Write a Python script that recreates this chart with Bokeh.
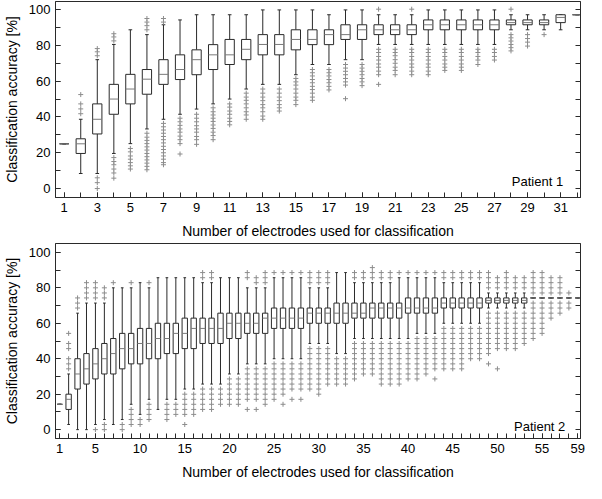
import numpy as np
from bokeh.plotting import figure
from bokeh.models import FixedTicker, LinearAxis, Label, Range1d
from bokeh.layouts import column
from bokeh.embed import file_html
from bokeh.resources import INLINE

FONT = "Liberation Sans"

# ---------------- Patient 1 ----------------
p1_n = list(range(1, 33))
p1_xticks = [1, 3, 5, 7, 9, 11, 13, 15, 17, 19, 21, 23, 25, 27, 29, 31]
p1_lo = [25, 8.4, 8.4, 19.6, 25.1, 33.3, 38.7, 41.5, 44.4, 47.3, 50, 55.6, 58.2, 58.2, 63.6, 69.3,
         69.3, 72, 72, 80.5, 80.5, 80.5, 80.5, 80.5, 80.5, 80.5, 80.5, 88.7, 88.7, 88.7, 88.7, 97.1]
p1_q1 = [25, 19.6, 30.5, 41.5, 47.3, 52.7, 58.2, 60.9, 63.6, 66.5, 69.3, 72, 74.7, 74.7, 77.5, 80.4,
         80.4, 83.3, 83.3, 86, 86, 86, 88.7, 88.7, 88.7, 88.7, 88.7, 91.5, 91.5, 91.5, 92.7, 97.1]
p1_med = [25, 25, 38.7, 50, 55.6, 61.1, 63.8, 66.5, 72, 74.7, 74.7, 77.8, 80.5, 80.5, 83.3, 83.3,
          86, 86, 88.7, 88.7, 88.7, 88.7, 91.5, 91.5, 91.5, 91.5, 91.5, 92.7, 92.7, 92.7, 95.6, 97.1]
p1_q3 = [25, 27.8, 47.3, 58.2, 63.8, 66.5, 72, 74.7, 77.5, 80.4, 83.3, 83.3, 86, 86, 88.7, 88.7,
         88.7, 91.5, 91.5, 91.5, 91.5, 91.5, 94.2, 94.2, 94.2, 94.2, 94.2, 94.2, 94.2, 94.2, 97.1, 97.1]
p1_hi = [25, 38.7, 72, 80.5, 88.7, 86, 91.5, 94.2, 97.1, 97.1, 97.1, 97.1, 99.8, 99.8, 99.8, 99.8,
         97.1, 99.8, 99.8, 97.1, 97.1, 97.1, 99.8, 99.8, 99.8, 99.8, 99.8, 97.1, 97.1, 97.1, 97.1, 97.1]
p1_out = [
    [],
    [52.5, 47.3, 44.5, 41.8],
    [78.2, 76.4, 74.2, 6, 3.3, 0],
    [86.5, 84.7, 82.5, 17.3, 15.1, 13.3, 10.9, 8.7, 5.8],
    [22.4, 20.5, 18.2, 16.4, 14.5, 12.7, 10.9],
    [95, 93, 91, 88.7, 30.9, 28.7, 26.9, 25.1, 23.3, 21.5, 19.6, 17.8, 16, 14.2, 12.4, 10.5],
    [95, 93, 36.4, 34.5, 32.7, 30.9, 29.1, 27.3, 25.5, 23.6, 21.8, 20, 18.2, 16.4, 14.5, 13.3],
    [39.3, 37.3, 35.3, 33.3, 31.5, 29.3, 27.3, 25.1, 19.3],
    [41.5, 39.3, 37.3, 35.1, 33.3, 31.5, 29.1, 27.3, 24.7],
    [45.1, 42.9, 41.1, 39.3, 37.5, 35.5, 33.6, 31.5, 29.6, 27.3],
    [47.3, 45.5, 43.3, 41.5, 39.3, 37.5, 35.6],
    [53.3, 51.1, 49.3, 47.3, 45.1, 42.9, 41.1, 38.7],
    [55.6, 53.3, 51.1, 49.1, 46.9, 45.1, 42.9, 40.5, 38.7],
    [55.6, 53.3, 51.1, 49.1, 46.9, 45.1, 43.3],
    [61.5, 59.6, 57.8, 55.6, 53.3, 51.1, 49.3, 46.9],
    [66.5, 64.7, 62.9, 60.9, 59.1, 57.1, 55.3, 53.3, 51.1, 49.3],
    [66.5, 64.7, 62.9, 60.9, 59.1, 57.1, 55.1],
    [69.3, 67.3, 65.5, 63.6, 61.5, 59.6, 57.8, 50.2],
    [69.3, 67.3, 65.5, 63.6, 61.5, 59.6, 57.5],
    [100.2, 77.8, 76, 73.8, 71.8, 69.6, 67.8, 65.6, 63.6, 58.2],
    [77.8, 76, 74.2, 72, 70, 67.8, 66, 63.6],
    [100.2, 77.8, 76, 73.8, 71.8, 69.6, 67.8, 65.6, 63.6],
    [77.8, 76, 73.8, 71.8, 69.6, 67.8, 65.6, 63.6],
    [77.8, 76, 73.8, 71.8, 69.6, 67.8, 66],
    [77.8, 76, 73.8, 71.8, 69.6, 67.8, 66],
    [77.8, 76, 73.8, 71.8, 69.3],
    [77.8, 76, 73.8, 71.8],
    [100.2, 86, 84.2, 82.4, 80.5, 78.7, 76.9],
    [86, 83.8, 81.8, 79.6],
    [86],
    [],
    [],
]

# ---------------- Patient 2 ----------------
p2_n = list(range(1, 60))
p2_xticks = [1, 5, 10, 15, 20, 25, 30, 35, 40, 45, 50, 55, 59]
p2_lo = [14.3, 2.9, 0, 0, 2.9, 5.7, 2.9, 5.7, 14.3, 8.6, 17.1, 11.4, 17.1, 17.1, 22.9, 22.9,
         25.7, 25.7, 25.7, 31.4, 31.4, 37.1, 37.1, 37.1, 40, 40, 40, 40, 48.6, 48.6, 48.6, 42.9,
         42.9, 51.4, 51.4, 51.4, 51.4, 51.4, 51.4, 51.4, 54.3, 54.3, 54.3, 60, 60, 60, 60, 60,
         68.6, 68.6, 68.6, 68.6, 68.6, 74.3, 74.3, 74.3, 74.3, 74.3, 74.3]
p2_q1 = [14.3, 11.4, 22.9, 25.7, 28.6, 31.4, 31.4, 34.3, 37.1, 37.1, 40, 40, 42.9, 42.9, 45.7, 45.7,
         48.6, 48.6, 48.6, 51.4, 51.4, 54.3, 54.3, 54.3, 57.1, 57.1, 57.1, 57.1, 60, 60, 60, 60,
         60, 62.9, 62.9, 62.9, 62.9, 62.9, 62.9, 65.7, 65.7, 65.7, 65.7, 68.6, 68.6, 68.6, 68.6, 68.6,
         71.4, 71.4, 71.4, 71.4, 71.4, 74.3, 74.3, 74.3, 74.3, 74.3, 74.3]
p2_med = [14.3, 17.1, 31.4, 34.3, 37.1, 40, 42.9, 45.7, 45.7, 48.6, 48.6, 51.4, 51.4, 54.3, 54.3, 57.1,
          57.1, 57.1, 57.1, 60, 60, 60, 60, 62.9, 62.9, 62.9, 62.9, 62.9, 65.7, 65.7, 65.7, 65.7,
          65.7, 65.7, 65.7, 68.6, 68.6, 68.6, 68.6, 68.6, 68.6, 68.6, 68.6, 71.4, 71.4, 71.4, 71.4, 71.4,
          72.9, 72.9, 72.9, 72.9, 72.9, 74.3, 74.3, 74.3, 74.3, 74.3, 74.3]
p2_q3 = [14.3, 20, 40, 42.9, 45.7, 48.6, 51.4, 54.3, 54.3, 57.1, 57.1, 60, 60, 60, 62.9, 62.9,
         62.9, 62.9, 65.7, 65.7, 65.7, 65.7, 65.7, 65.7, 68.6, 68.6, 68.6, 68.6, 68.6, 68.6, 68.6, 71.4,
         71.4, 71.4, 71.4, 71.4, 71.4, 71.4, 71.4, 74.3, 74.3, 74.3, 74.3, 74.3, 74.3, 74.3, 74.3, 74.3,
         74.3, 74.3, 74.3, 74.3, 74.3, 74.3, 74.3, 74.3, 74.3, 74.3, 74.3]
p2_hi = [14.3, 31.4, 65.7, 71.4, 71.4, 71.4, 80, 80, 80, 82.9, 80, 85.7, 85.7, 85.7, 85.7, 85.7,
         82.9, 82.9, 85.7, 85.7, 85.7, 80, 80, 80, 85.7, 85.7, 85.7, 85.7, 80, 80, 80, 88.6,
         88.6, 82.9, 82.9, 82.9, 82.9, 82.9, 85.7, 85.7, 85.7, 85.7, 85.7, 82.9, 82.9, 82.9, 82.9, 82.9,
         77.1, 77.1, 77.1, 77.1, 77.1, 74.3, 74.3, 74.3, 74.3, 74.3, 74.3]
p2_out = [
    [],
    [54.3, 48.6, 45.7, 40, 37.1, 34.3],
    [74.3, 71.4, 68.6],
    [82.9, 80, 77.1, 74.3],
    [82.9, 80, 77.1, 74.3, 0],
    [80, 77.1, 74.3, 2.9, 0],
    [82.9],
    [2.9, 0],
    [82.9, 11.4, 8.6, 5.7, 2.9],
    [5.7, 2.9],
    [82.9, 14.3, 11.4, 8.6, 5.7],
    [],
    [14.3, 11.4, 8.6, 5.7],
    [14.3, 11.4, 8.6],
    [20, 17.1, 14.3, 11.4, 8.6, 2.9],
    [20, 17.1, 14.3, 11.4, 8.6],
    [88.6, 85.7, 22.9, 20, 17.1, 14.3, 11.4],
    [88.6, 85.7, 22.9, 20, 17.1, 14.3, 11.4],
    [22.9, 20, 17.1, 14.3],
    [28.6, 25.7, 22.9, 20, 17.1, 14.3],
    [28.6, 25.7, 22.9, 20, 17.1, 14.3],
    [88.6, 85.7, 34.3, 31.4, 28.6, 25.7, 22.9, 20, 17.1, 11.4],
    [85.7, 82.9, 34.3, 31.4, 28.6, 25.7, 22.9, 20, 17.1, 11.4],
    [88.6, 85.7, 82.9, 34.3, 31.4, 28.6, 25.7, 22.9, 20, 17.1, 14.3],
    [88.6, 37.1, 34.3, 31.4, 28.6, 25.7, 22.9, 20, 17.1],
    [88.6, 37.1, 34.3, 31.4, 28.6, 25.7, 22.9, 20, 14.3],
    [88.6, 37.1, 34.3, 31.4, 28.6, 25.7, 22.9, 17.1],
    [88.6, 37.1, 34.3, 31.4, 28.6, 25.7, 22.9, 17.1],
    [88.6, 85.7, 82.9, 45.7, 42.9, 40, 37.1, 34.3, 31.4, 28.6, 25.7, 22.9],
    [88.6, 85.7, 82.9, 45.7, 42.9, 40, 37.1, 34.3, 31.4, 28.6, 25.7, 22.9, 20],
    [88.6, 85.7, 82.9, 45.7, 42.9, 40, 37.1, 34.3, 31.4, 28.6, 25.7],
    [40, 37.1, 34.3, 31.4, 28.6, 25.7],
    [40, 37.1, 34.3, 31.4, 28.6, 25.7],
    [88.6, 85.7, 48.6, 45.7, 42.9, 40, 37.1, 34.3, 31.4, 28.6],
    [88.6, 85.7, 48.6, 45.7, 42.9, 40, 37.1, 34.3, 31.4],
    [91.4, 88.6, 85.7, 48.6, 45.7, 42.9, 40, 37.1, 34.3, 31.4],
    [88.6, 85.7, 48.6, 45.7, 42.9, 40, 37.1, 34.3, 31.4, 28.6, 25.7],
    [88.6, 85.7, 48.6, 45.7, 42.9, 40, 37.1, 34.3, 31.4, 28.6, 25.7],
    [88.6, 48.6, 45.7, 42.9, 40, 37.1, 34.3, 31.4, 28.6, 25.7],
    [88.6, 48.6, 45.7, 42.9, 40, 37.1, 34.3, 31.4, 28.6],
    [88.6, 51.4, 48.6, 45.7, 42.9, 40, 37.1, 34.3, 31.4, 28.6],
    [88.6, 51.4, 48.6, 45.7, 42.9, 40, 37.1, 34.3, 31.4],
    [88.6, 51.4, 48.6, 45.7, 42.9, 40, 37.1, 34.3, 28.6],
    [88.6, 85.7, 57.1, 54.3, 51.4, 48.6, 45.7, 42.9, 40, 37.1, 34.3],
    [88.6, 85.7, 57.1, 54.3, 51.4, 48.6, 45.7, 42.9, 40, 37.1, 34.3],
    [88.6, 85.7, 57.1, 54.3, 51.4, 48.6, 45.7, 42.9, 40, 37.1, 34.3],
    [88.6, 85.7, 57.1, 54.3, 51.4, 48.6, 45.7, 42.9, 40],
    [88.6, 85.7, 57.1, 54.3, 51.4, 48.6, 45.7, 42.9, 40],
    [88.6, 85.7, 82.9, 80, 65.7, 62.9, 60, 57.1, 54.3, 51.4, 48.6, 45.7, 42.9, 37.1],
    [85.7, 82.9, 80, 65.7, 62.9, 60, 57.1, 54.3, 51.4, 48.6, 45.7, 34.3],
    [88.6, 85.7, 82.9, 80, 65.7, 62.9, 60, 57.1, 54.3, 51.4, 48.6, 45.7],
    [85.7, 82.9, 80, 65.7, 62.9, 60, 57.1, 54.3, 51.4, 48.6, 45.7],
    [85.7, 82.9, 80, 65.7, 62.9, 60, 57.1, 54.3, 51.4, 48.6],
    [88.6, 85.7, 82.9, 80, 77.1, 71.4, 68.6, 65.7, 62.9, 60, 57.1, 54.3, 51.4],
    [88.6, 85.7, 82.9, 80, 77.1, 71.4, 68.6, 65.7, 62.9, 60, 57.1, 54.3],
    [85.7, 82.9, 80, 77.1, 71.4, 68.6, 65.7, 62.9],
    [85.7, 82.9, 80, 77.1, 71.4, 68.6, 65.7],
    [77.1, 71.4, 68.6],
    [],
]

y_major = [0, 20, 40, 60, 80, 100]
y_minor = [0, 10, 20, 30, 40, 50, 60, 70, 80, 90, 100]

XLABEL = "Number of electrodes used for classification"
YLABEL = "Classification accuracy [%]"
LINE = "#2a2a2a"
GRAY = "#8c8c8c"


def style_axis(ax):
    ax.major_tick_in = 5
    ax.major_tick_out = 0
    ax.minor_tick_in = 5
    ax.minor_tick_out = 0
    ax.axis_line_color = LINE
    ax.major_tick_line_color = LINE
    ax.minor_tick_line_color = LINE
    ax.major_label_text_font = FONT
    ax.major_label_text_font_size = "13px"
    ax.major_label_text_color = "black"
    ax.axis_label_text_font = FONT
    ax.axis_label_text_font_size = "14px"
    ax.axis_label_text_font_style = "normal"
    ax.axis_label_text_color = "black"


def make_fig(n, lo, q1, med, q3, hi, out, xticks, xr, yr, height, top_border,
             box_w, cap_w, ptext, px, py):
    p = figure(width=586, height=height, x_range=Range1d(*xr), y_range=Range1d(*yr),
               output_backend="svg", toolbar_location=None,
               min_border_left=50, min_border_right=6, min_border_top=top_border,
               min_border_bottom=0)
    p.xgrid.visible = False
    p.ygrid.visible = False
    p.outline_line_color = LINE
    p.outline_line_alpha = 1.0
    p.background_fill_color = "white"
    p.border_fill_color = "white"

    x = np.array(n, dtype=float)
    # whiskers
    p.segment(x0=x, y0=q3, x1=x, y1=hi, line_color=LINE, line_width=1)
    p.segment(x0=x, y0=lo, x1=x, y1=q1, line_color=LINE, line_width=1)
    p.segment(x0=x - cap_w / 2, y0=hi, x1=x + cap_w / 2, y1=hi, line_color=LINE, line_width=1)
    p.segment(x0=x - cap_w / 2, y0=lo, x1=x + cap_w / 2, y1=lo, line_color=LINE, line_width=1)
    # boxes
    p.vbar(x=x, width=box_w, bottom=q1, top=q3, fill_color="white",
           line_color=LINE, line_width=1)
    # medians
    p.segment(x0=x - box_w / 2, y0=med, x1=x + box_w / 2, y1=med,
              line_color="#7a7a7a", line_width=1)
    # outliers
    ox = [xi for xi, vals in zip(n, out) for _ in vals]
    oy = [v for vals in out for v in vals]
    p.scatter(ox, oy, marker="cross", size=5, line_color=GRAY, line_width=1)

    p.xaxis.ticker = FixedTicker(ticks=xticks, minor_ticks=n)
    p.yaxis.ticker = FixedTicker(ticks=y_major, minor_ticks=y_minor)
    p.xaxis.axis_label = XLABEL
    p.yaxis.axis_label = YLABEL
    for ax in list(p.xaxis) + list(p.yaxis):
        style_axis(ax)
    p.xaxis.major_label_standoff = 5
    p.xaxis.axis_label_standoff = 8
    p.yaxis.major_label_standoff = 5
    p.yaxis.axis_label_standoff = 6

    rax = LinearAxis(ticker=FixedTicker(ticks=y_minor, minor_ticks=[]))
    style_axis(rax)
    rax.major_label_overrides = {v: "" for v in y_minor}
    rax.major_label_standoff = 0
    rax.minor_tick_in = 0
    p.add_layout(rax, "right")

    p.add_layout(Label(x=px, y=py, text=ptext, text_align="right",
                       text_baseline="alphabetic", text_font=FONT,
                       text_font_size="13px", text_color="black"))
    return p


p1 = make_fig(p1_n, p1_lo, p1_q1, p1_med, p1_q3, p1_hi, p1_out, p1_xticks,
              (0.475, 32.2), (-5, 104.5), 241, 1, 0.56, 0.22, "Patient 1", 31.15, 4.2)
p2 = make_fig(p2_n, p2_lo, p2_q1, p2_med, p2_q3, p2_hi, p2_out, p2_xticks,
              (0.53, 59.3), (-5, 105), 241, 2, 0.6, 0.3, "Patient 2", 57.6, 1.5)

layout = column(p1, p2, spacing=0)
open("out.html", "w").write(file_html(layout, INLINE))
